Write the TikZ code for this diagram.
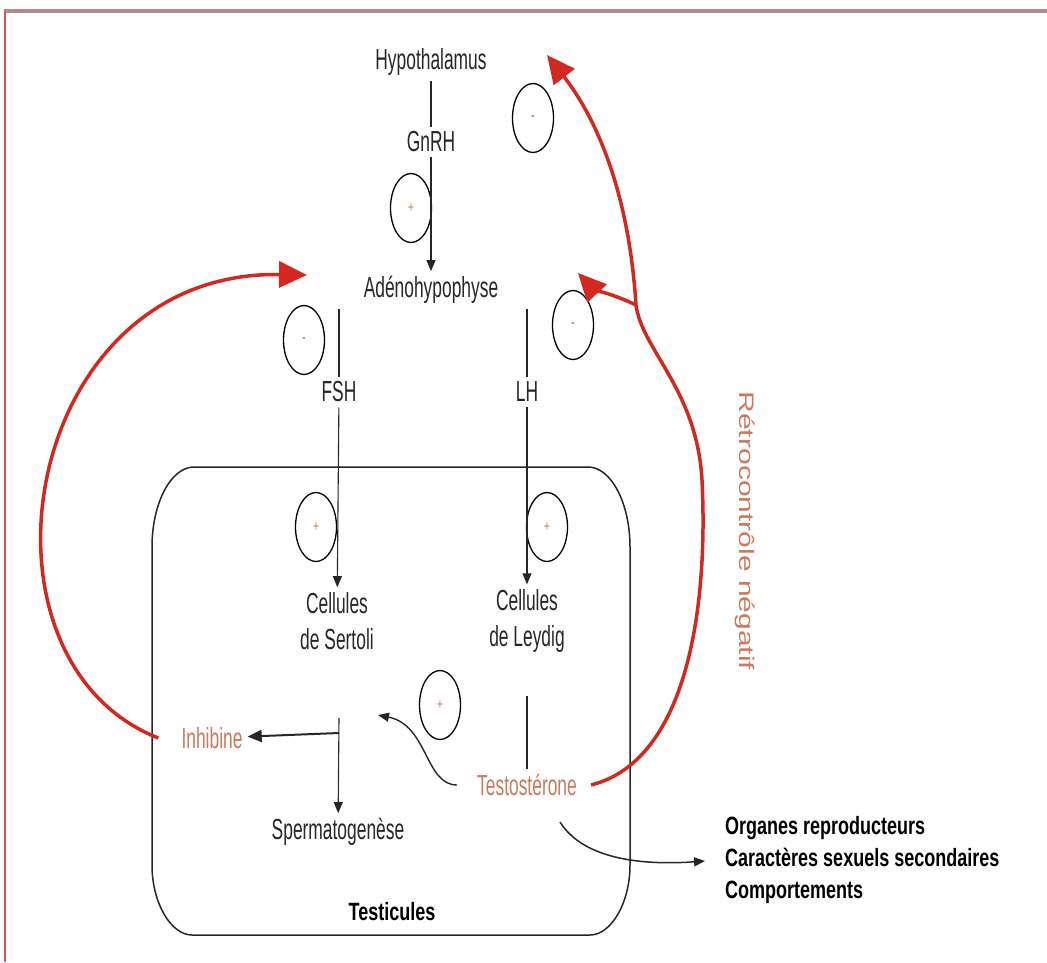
\documentclass[tikz,border=0pt]{standalone}
\usepackage{fontspec}
\setmainfont{Liberation Sans}[FakeStretch=0.72]
\newfontfamily\condfont{Liberation Sans}[FakeStretch=0.6]
\newfontfamily\sidefont{Liberation Sans}[FakeStretch=1.43]
\usetikzlibrary{positioning,arrows.meta,shapes.geometric}
\definecolor{feedback}{HTML}{D3281E}
\definecolor{hormone}{HTML}{C97B5C}
\definecolor{frameline}{HTML}{B48888}
\definecolor{inkgray}{HTML}{262626}

\begin{document}
\begin{tikzpicture}[x=1pt,y=-1pt,
    txt/.style={font=\condfont\fontsize{29}{36}\selectfont,text=inkgray,inner sep=5pt,align=center},
    effect/.style={font=\fontsize{25}{32}\bfseries\selectfont,text=black,inner sep=6pt},
    signnode/.style={draw,ellipse,line width=1.3pt,minimum width=41pt,minimum height=69pt,inner sep=0pt,font=\fontsize{15}{15}\selectfont},
    plussign/.style={signnode,text=hormone},
    minussign/.style={signnode,text=black!60},
    link/.style={line width=1.1pt,draw=inkgray},
    linkarr/.style={link,-{Triangle[length=11pt,width=9pt]}},
    fb/.style={draw=feedback,line width=3.5pt,-{Triangle[length=28pt,width=26pt]}}]
  \useasboundingbox (0,0) rectangle (1047,962);
  % frame
  \draw[frameline,line width=4pt] (4,11) -- (1047,11);
  \draw[feedback!80,line width=1.2pt] (5,11) -- (5,962);

  % testicules
  \draw[link,line width=1.5pt] (194,467) -- (588,467) .. controls (611,467) and (630,503) .. (630,547)
    -- (630,865) .. controls (630,903) and (611,935) .. (590,935) -- (192,935)
    .. controls (171,935) and (152,903) .. (152,865) -- (152,547) .. controls (152,503) and (171,467) .. (194,467) -- cycle;

  \node[txt] (hyp) at (431,62) {Hypothalamus};
  \node[txt] (gnrh) at (431,142) {GnRH};
  \node[txt] (adeno) at (431,290) {Adénohypophyse};
  \node[txt] (fsh) at (339,392) {FSH};
  \node[txt] (lh) at (527,392) {LH};
  \node[txt] (sertoli) at (337,621) {Cellules\\de Sertoli};
  \node[txt] (leydig) at (527,621) {Cellules\\de Leydig};
  \node[txt,text=hormone] (inhib) at (212,738) {Inhibine};
  \node[txt,text=hormone] (testo) at (527,785) {Testostérone};
  \node[txt] (sperm) at (338,832) {Spermatogenèse};
  \node[effect] (testic) at (392,912) {Testicules};
  \node[effect,anchor=west,align=left] (effects) at (719,860) {Organes reproducteurs\\Caractères sexuels secondaires\\Comportements};
  \node[rotate=-90,font=\sidefont\fontsize{21}{24}\selectfont,text=hormone] (retro) at (745,531) {Rétrocontrôle négatif};

  % signes
  \node[plussign] (sgn) at (411,208) {+};
  \node[minussign] (shyp) at (533,118) {-};
  \node[minussign] (sfsh) at (304,340) {-};
  \node[minussign] (slh) at (573,325) {-};
  \node[plussign] (ssert) at (316,527) {+};
  \node[plussign] (sleyd) at (547,527) {+};
  \node[plussign] (stest) at (440,705) {+};

  \draw[link] (hyp) -- (gnrh);
  \draw[linkarr] (gnrh) -- (adeno);
  \draw[link] (adeno.south -| fsh) -- (fsh);
  \draw[link] (adeno.south -| lh) -- (lh);
  \draw[linkarr] (fsh) -- (sertoli);
  \draw[linkarr] (lh) -- (leydig);
  \draw[link,shorten <=38pt] (leydig) -- (testo);
  \coordinate (split) at (339,718);
  \draw[linkarr] (split) -- (sperm);
  \draw[link,line width=2pt,-{Triangle[length=14pt,width=12pt]}] ([yshift=-15pt]split) -- (inhib);
  \coordinate (sertolitgt) at (378,715);
  \draw[linkarr,line width=1.4pt] ([xshift=-15pt]testo.west) .. controls (425,785) and (428,725) .. (sertolitgt);
  \coordinate (effstart) at (560,822);
  \draw[linkarr,line width=1.5pt,shorten >=14pt] (effstart) .. controls (585,862) and (650,865) .. (effects.west);

  % retrocontrole
  \coordinate (hyptgt) at (547,55);
  \coordinate (adenoR) at (578,273);
  \coordinate (adenoL) at (307,275);
  \coordinate (fork) at (636,305);
  \draw[fb] ([xshift=-18pt]inhib.west) .. controls (-40,660) and (20,270) .. (adenoL);
  \draw[fb] ([xshift=9pt]testo.east) .. controls (690,760) and (708,600) .. (702,480)
    .. controls (697,390) and (642,350) .. (fork) .. controls (628,180) and (590,110) .. (hyptgt);
  \draw[fb] (fork) .. controls (615,295) and (592,288) .. (adenoR);
\end{tikzpicture}
\end{document}
